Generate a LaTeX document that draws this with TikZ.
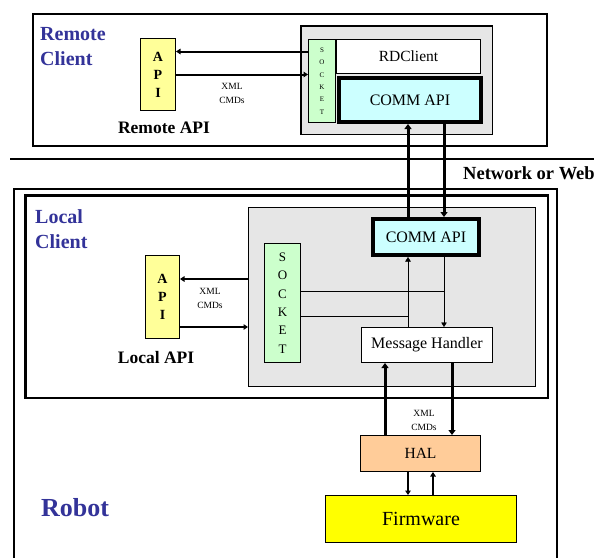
\documentclass[tikz,border=0pt]{standalone}
\usepackage{fontspec}
\setmainfont{Liberation Serif}
\usetikzlibrary{arrows.meta}
\definecolor{apiyellow}{HTML}{FFFF99}
\definecolor{sockgreen}{HTML}{CCFFCC}
\definecolor{commcyan}{HTML}{CCFFFF}
\definecolor{halpeach}{HTML}{FFCC99}
\definecolor{fwyellow}{HTML}{FFFF00}
\definecolor{panelgray}{HTML}{E6E6E6}
\definecolor{labelblue}{HTML}{333399}
\newcommand{\fsz}[2]{\fontsize{#1}{#2}\selectfont}
\begin{document}
\begin{tikzpicture}[x=1pt,y=-1pt,line join=miter,
	>={Triangle[length=4.5pt,width=5.5pt]},
	box/.style={draw,line width=1pt,inner sep=0pt,anchor=north west,font=\fsz{15.5}{15.5}},
	panel/.style={box,fill=panelgray},
	letters/.style={align=center,font=\bfseries\fsz{14}{18}},
	title/.style={anchor=north west,inner sep=0pt,align=left,text=labelblue,font=\bfseries\fsz{20}{25}},
	caption/.style={inner sep=0pt,anchor=base,font=\bfseries\fsz{17.5}{20}},
	cmds/.style={align=center,inner sep=0pt,font=\fsz{9.5}{14}},
	fat/.style={line width=3pt,>={Triangle[length=5pt,width=7pt]}}]
	\fill[white] (0,0) rectangle (594,557);
	\useasboundingbox (0,0) rectangle (594,557);
	% remote client
	\node[box,line width=2pt,minimum width=514pt,minimum height=132pt] (remote) at (32,13) {};
	\node[title] (rtitle) at (40,27) {Remote\\Client};
	\node[panel,line width=1.5pt,minimum width=191.5pt,minimum height=108.5pt] (rpanel) at (300,25) {};
	\node[box,fill=sockgreen,minimum width=27pt,minimum height=83pt,align=center,font=\fsz{7}{12.4}] (rsock) at (308,39) {S\\O\\C\\K\\E\\T};
	\node[box,fill=white,minimum width=144pt,minimum height=34pt] (rdc) at (336,39) {RDClient};
	\node[box,fill=commcyan,line width=4pt,minimum width=142pt,minimum height=44pt,font=\fsz{16}{16}] (rcomm) at (337,76) {COMM API};
	\node[box,fill=apiyellow,minimum width=35pt,minimum height=72pt,letters] (rapi) at (140,38) {A\\P\\I};
	\node[caption] (rapilbl) at (164,133) {Remote API};
	\coordinate (rin) at ([yshift=23pt]rapi.east);
	\draw[line width=2pt,->] (rsock.west |- rin) -- (rin);
	\draw[line width=2pt,->] (rapi.east) -- (rsock.west |- rapi.east);
	\node[cmds] (rxml) at (232,93) {XML\\CMDs};
	% network split
	\draw[line width=1.3pt] (10,159) -- (594,159);
	\node[inner sep=0pt,anchor=base west,font=\bfseries\fsz{18.5}{20}] (net) at (463,179) {Network or Web};
	% robot and local client
	\draw[line width=1.2pt] (14,570) |- (557,189) -- (557,570);
	\node[box,line width=2.5pt,minimum width=522.5pt,minimum height=202.5pt] (local) at (24,194) {};
	\node[title] (ltitle) at (35,209) {Local\\Client};
	\node[panel,minimum width=287pt,minimum height=179pt] (lpanel) at (248,207) {};
	\node[box,fill=sockgreen,minimum width=36pt,minimum height=119pt,align=center,font=\fsz{13}{18.4}] (lsock) at (264,243) {S\\O\\C\\K\\E\\T};
	\node[box,fill=commcyan,line width=4pt,minimum width=106pt,minimum height=36pt,font=\fsz{16}{16}] (lcomm) at (371,217) {COMM API};
	\node[box,fill=white,minimum width=131pt,minimum height=35pt,font=\fsz{16}{16}] (mh) at (361,327) {Message Handler};
	\node[box,fill=apiyellow,minimum width=34pt,minimum height=83pt,letters] (lapi) at (145,255) {A\\P\\I};
	\node[caption] (lapilbl) at (156,363) {Local API};
	\node[box,fill=halpeach,minimum width=120pt,minimum height=36pt] (hal) at (360,435) {HAL};
	\node[box,fill=fwyellow,minimum width=191pt,minimum height=47pt,font=\fsz{20}{20}] (fw) at (325,495) {Firmware};
	\node[anchor=north west,inner sep=0pt,text=labelblue,font=\bfseries\fsz{26}{26}] (robot) at (41,498) {Robot};
	% link between the two COMM APIs
	\coordinate (cl) at ([xshift=-18pt]lcomm.south);
	\coordinate (cr) at ([xshift=18pt]lcomm.south);
	\draw[fat,->] (cl |- lcomm.north) -- (cl |- rcomm.south);
	\draw[fat,->] (cr |- rcomm.south) -- (cr |- lcomm.north);
	% inside the local panel
	\draw[->] (cl |- mh.north) -- (cl |- lcomm.south);
	\draw[->] (cr |- lcomm.south) -- (cr |- mh.north);
	\coordinate (s1) at ([yshift=12pt]lsock.east);
	\coordinate (s2) at ([yshift=-13pt]lsock.east);
	\draw (s1) -- (s1 -| cr);
	\draw (s2) -- (s2 -| cl);
	% local API
	\coordinate (lin) at ([yshift=18pt]lapi.east);
	\coordinate (lout) at ([yshift=-30pt]lapi.east);
	\draw[line width=1.5pt,->] (lpanel.west |- lin) -- (lin);
	\draw[line width=1.5pt,->] (lout) -- (lpanel.west |- lout);
	\node[cmds] (lxml) at (210,298) {XML\\CMDs};
	% message handler to HAL
	\coordinate (h1) at ([xshift=-42pt]mh.south);
	\coordinate (h2) at ([xshift=25pt]mh.south);
	\draw[fat,->] (h1 |- hal.north) -- (h1);
	\draw[fat,->] (h2) -- (h2 |- hal.north);
	\node[cmds] (hxml) at (424,420) {XML\\CMDs};
	% HAL to firmware
	\coordinate (f1) at ([xshift=-12.5pt]hal.south);
	\coordinate (f2) at ([xshift=12.5pt]hal.south);
	\draw[line width=1.5pt,->] (f1) -- (f1 |- fw.north);
	\draw[line width=1.5pt,->] (f2 |- fw.north) -- (f2);
\end{tikzpicture}
\end{document}
